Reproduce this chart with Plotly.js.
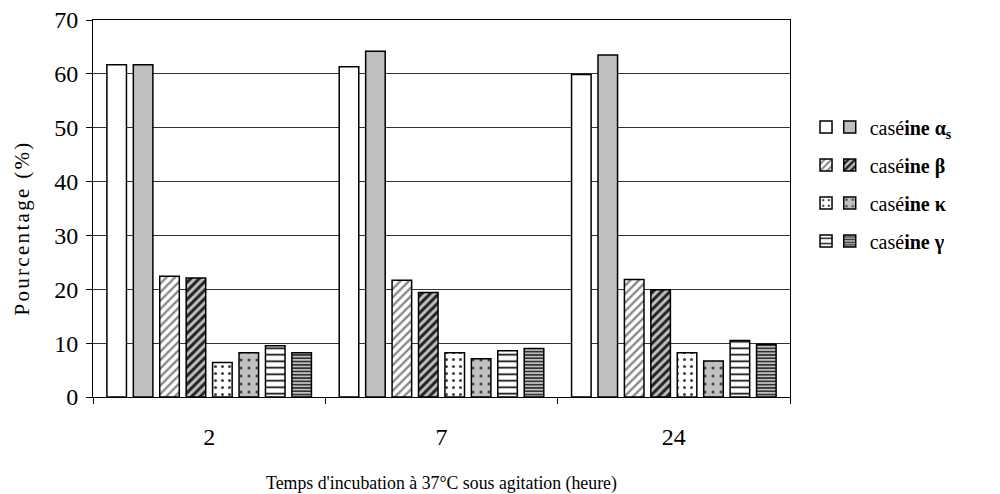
<!DOCTYPE html>
<html>
<head>
<meta charset="utf-8">
<script src="https://cdn.plot.ly/plotly-3.0.1.min.js"></script>
<style>html,body{margin:0;padding:0;background:#fff;}#chart{width:1000px;height:494px;}
#chart .annotation-text{letter-spacing:2.3px;}</style>
</head>
<body>
<div id="chart"></div>
<script>
// Data
var categories = ['2', '7', '24'];
var alphaS_1 = [61.7, 61.3, 59.9];
var alphaS_2 = [61.7, 64.2, 63.5];
var beta_1 = [22.4, 21.7, 21.8];
var beta_2 = [22.1, 19.4, 19.9];
var kappa_1 = [6.4, 8.2, 8.2];
var kappa_2 = [8.2, 7.1, 6.7];
var gamma_1 = [9.5, 8.6, 10.5];
var gamma_2 = [8.2, 9.0, 9.8];
var legendNames = ['casé<b>ine α<sub>s</sub></b>', 'casé<b>ine β</b>', 'casé<b>ine κ</b>', 'casé<b>ine γ</b>'];
var xTitle = "Temps d'incubation à 37°C sous agitation (heure)";
var yTitle = 'Pourcentage (%)';

var GRAY = '#c0c0c0';
var serif = 'Liberation Serif';

function bar(y, name, legend, group, pattern, color) {
  return {
    type: 'bar', x: categories, y: y, name: name,
    legend: legend, legendgroup: group,
    marker: {color: color, line: {color: '#000', width: 1.5}, pattern: pattern},
    hoverinfo: 'y'
  };
}

var noPat = {shape: ''};
var traces = [
  bar(alphaS_1, ' ', 'legend', 'a1', noPat, '#ffffff'),
  bar(alphaS_2, legendNames[0], 'legend2', 'a2', noPat, GRAY),
  bar(beta_1, ' ', 'legend', 'b1', {shape: '/', bgcolor: '#ffffff', fgcolor: '#888888', size: 6, solidity: 0.4, fillmode: 'replace'}, '#ffffff'),
  bar(beta_2, legendNames[1], 'legend2', 'b2', {shape: '/', bgcolor: GRAY, fgcolor: '#222222', size: 6, solidity: 0.5, fillmode: 'replace'}, GRAY),
  bar(kappa_1, ' ', 'legend', 'k1', {shape: '.', bgcolor: '#ffffff', fgcolor: '#444444', size: 7, solidity: 0.15, fillmode: 'replace'}, '#ffffff'),
  bar(kappa_2, legendNames[2], 'legend2', 'k2', {shape: '.', bgcolor: GRAY, fgcolor: '#444444', size: 8, solidity: 0.12, fillmode: 'replace'}, GRAY),
  bar(gamma_1, ' ', 'legend', 'g1', {shape: '-', bgcolor: '#ffffff', fgcolor: '#000000', size: 6.5, solidity: 0.25, fillmode: 'replace'}, '#ffffff'),
  bar(gamma_2, legendNames[3], 'legend2', 'g2', {shape: '-', bgcolor: GRAY, fgcolor: '#222222', size: 3.3, solidity: 0.45, fillmode: 'replace'}, GRAY)
];

var legendCommon = {
  yanchor: 'top', xanchor: 'left', y: 0.768,
  bgcolor: 'rgba(0,0,0,0)', borderwidth: 0,
  traceorder: 'grouped', tracegroupgap: 9,
  font: {family: serif, size: 20, color: '#000'}
};

var layout = {
  width: 1000, height: 494,
  margin: {l: 93, r: 210, t: 20, b: 97},
  paper_bgcolor: '#fff', plot_bgcolor: '#fff',
  font: {family: serif, size: 18, color: '#000'},
  barmode: 'group', bargap: 0.09, bargroupgap: 0.26,
  showlegend: true,
  legend: Object.assign({}, legendCommon, {x: 1.023}),
  legend2: Object.assign({}, legendCommon, {x: 1.057}),
  xaxis: {
    type: 'category', showgrid: false,
    showline: true, linecolor: '#000', linewidth: 1, mirror: true,
    ticks: 'outside', tickson: 'boundaries', ticklen: 6, tickcolor: '#000',
    ticklabelstandoff: 18,
    tickfont: {family: serif, size: 24, color: '#000'},
    title: {text: xTitle, font: {family: serif, size: 17.8, color: '#000'}, standoff: 27},
    automargin: false
  },
  yaxis: {
    range: [0, 70], dtick: 10, tick0: 0,
    showgrid: true, gridcolor: '#333', gridwidth: 1,
    zeroline: false,
    showline: true, linecolor: '#000', linewidth: 1, mirror: true,
    ticks: 'outside', ticklen: 6, tickcolor: '#000',
    ticklabelstandoff: 3,
    tickfont: {family: serif, size: 24, color: '#000'},
    automargin: false
  },
  annotations: [{
    text: yTitle, xref: 'paper', yref: 'paper',
    x: -0.102, y: 0.45, xanchor: 'center', yanchor: 'middle',
    textangle: -90, showarrow: false,
    font: {family: serif, size: 21, color: '#000'}
  }]
};

Plotly.newPlot('chart', traces, layout, {displayModeBar: false, staticPlot: true});
</script>
</body>
</html>
